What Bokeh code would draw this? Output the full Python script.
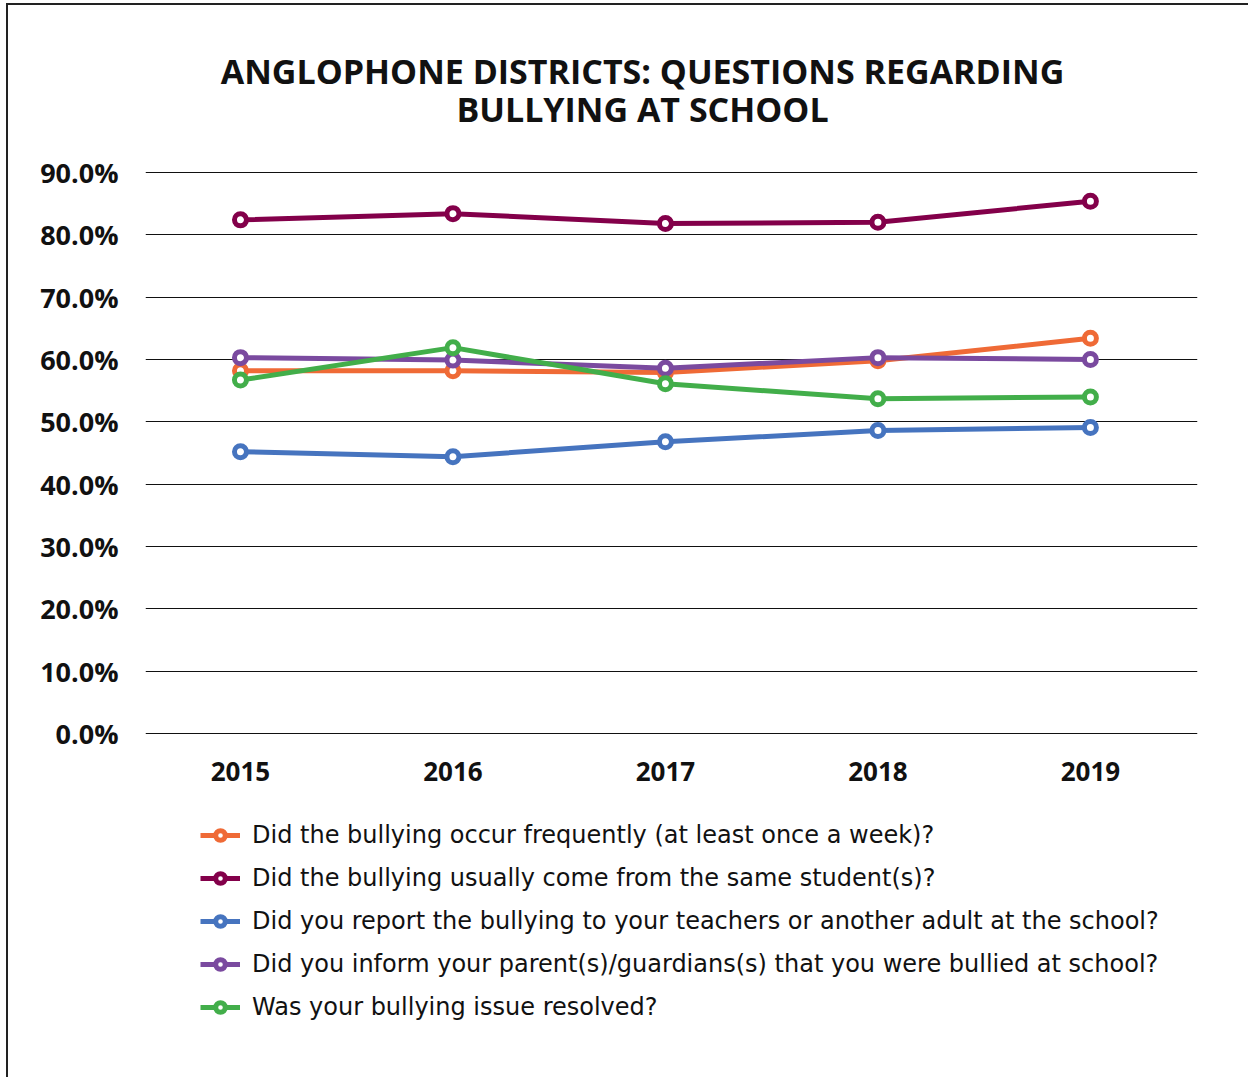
from bokeh.plotting import figure
from bokeh.models import Range1d, FixedTicker, PrintfTickFormatter, Label, Legend, LegendItem
from bokeh.embed import file_html
from bokeh.resources import INLINE

years = [2015, 2016, 2017, 2018, 2019]
frequently = [58.2, 58.2, 57.9, 59.8, 63.4]
same_student = [82.4, 83.4, 81.8, 82.0, 85.4]
reported = [45.2, 44.4, 46.8, 48.6, 49.1]
informed = [60.3, 59.9, 58.6, 60.3, 60.0]
resolved = [56.7, 61.9, 56.1, 53.7, 54.0]

series_labels = [
    "Did the bullying occur frequently (at least once a week)?",
    "Did the bullying usually come from the same student(s)?",
    "Did you report the bullying to your teachers or another adult at the school?",
    "Did you inform your parent(s)/guardians(s) that you were bullied at school?",
    "Was your bullying issue resolved?",
]
series_values = [frequently, same_student, reported, informed, resolved]
series_colors = ["#EF6A36", "#83004A", "#4674BF", "#7A4A9F", "#42AE4A"]
y_ticks = [0, 10, 20, 30, 40, 50, 60, 70, 80, 90]
title_lines = ["ANGLOPHONE DISTRICTS: QUESTIONS REGARDING", "BULLYING AT SCHOOL"]

FONT = "Open Sans"
LFONT = "DejaVu Sans"

# the frame spans title area, chart and legend area; 0%..90% takes 561 px
p = figure(frame_width=1052, frame_height=1035, output_backend="svg", toolbar_location=None,
           x_range=Range1d(years[0] - 0.447, years[-1] + 0.504),
           y_range=Range1d(-49.25, 116.79),
           min_border_left=137, min_border_right=51, min_border_top=0, min_border_bottom=37)
p.title.visible = False
p.outline_line_color = None
p.styles = {"margin-left": "6px", "margin-top": "3px",
            "border-top": "2px solid #222", "border-left": "2px solid #222"}

# axes
p.yaxis.ticker = FixedTicker(ticks=y_ticks)
p.yaxis.formatter = PrintfTickFormatter(format="%.1f%%")
p.yaxis.axis_line_color = None
p.yaxis.major_tick_line_color = None
p.yaxis.minor_tick_line_color = None
p.yaxis.major_label_standoff = 21
p.yaxis.major_label_text_font = FONT
p.yaxis.major_label_text_font_style = "bold"
p.yaxis.major_label_text_font_size = "27px"
p.yaxis.major_label_text_color = "#111111"

p.xaxis.fixed_location = 0
p.xaxis.ticker = FixedTicker(ticks=years)
p.xaxis.axis_line_color = None
p.xaxis.major_tick_line_color = None
p.xaxis.minor_tick_line_color = None
p.xaxis.major_label_standoff = 22
p.xaxis.major_label_text_font = FONT
p.xaxis.major_label_text_font_style = "bold"
p.xaxis.major_label_text_font_size = "26px"
p.xaxis.major_label_text_color = "#111111"

p.xgrid.grid_line_color = None
p.ygrid.ticker = FixedTicker(ticks=y_ticks)
p.ygrid.grid_line_color = "#111111"
p.ygrid.grid_line_width = 1.2

items = []
for label, vals, col in zip(series_labels, series_values, series_colors):
    r1 = p.line(years, vals, line_color=col, line_width=5)
    r2 = p.scatter(years, vals, marker="circle", size=12, line_color=col, line_width=5, fill_color="white")
    items.append(LegendItem(label=label, renderers=[r1, r2]))

legend = Legend(items=items, location=(55, 12), orientation="vertical")
legend.border_line_color = None
legend.background_fill_alpha = 0
legend.label_text_font = LFONT
legend.label_text_font_size = "24px"
legend.label_text_color = "#111111"
legend.glyph_width = 40
legend.glyph_height = 24
legend.label_height = 43
legend.label_standoff = 12
legend.spacing = 0
legend.padding = 0
legend.margin = 0
p.add_layout(legend, "center")

# two-line chart title, centred over the chart
title_x = 2016.892
title_y = [106.3, 100.2]
for txt, ty in zip(title_lines, title_y):
    p.add_layout(Label(x=title_x, y=ty, text=txt, text_align="center", text_baseline="middle",
                       text_font=FONT, text_font_style="bold", text_font_size="34px",
                       text_color="#111111"))

open("out.html", "w").write(file_html(p, INLINE))
